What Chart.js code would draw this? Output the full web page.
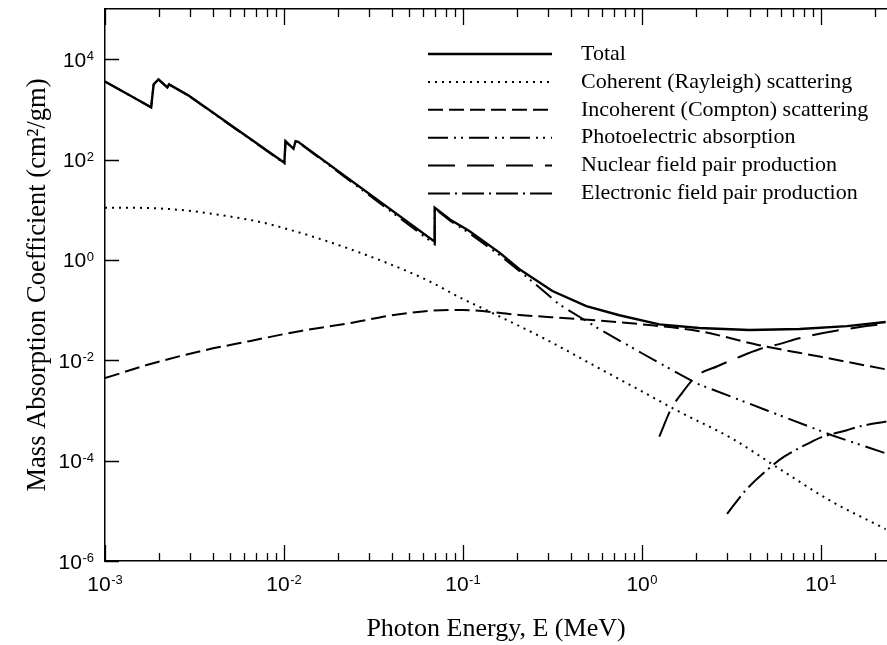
<!DOCTYPE html>
<html><head><meta charset="utf-8">
<script src="https://cdn.jsdelivr.net/npm/chart.js@4.4.1/dist/chart.umd.min.js"></script>
<style>html,body{margin:0;padding:0;background:#fff;overflow:hidden}canvas{display:block}</style>
</head><body>
<canvas id="c" width="887" height="645"></canvas>
<script>
// ---- data (photon energy in MeV, mass coefficient in cm^2/gm) ----
const seriesLabels = ['Total','Coherent (Rayleigh) scattering','Incoherent (Compton) scattering','Photoelectric absorption','Nuclear field pair production','Electronic field pair production'];

const totalE  = [0.001,0.00181,0.00187,0.00199,0.00223,0.00228,0.00292,0.01005,0.0102,0.0113,0.0116,0.0120,0.0695,0.0695,0.085,0.108,0.16,0.206,0.316,0.489,0.748,1.25,2.09,3.98,7.6,14,23];
const totalMu = [3600,1100,3150,3950,2750,3150,1900,86,232,164,232,225,2.3,11,6.3,3.8,1.4,0.66,0.24,0.12,0.079,0.052,0.044,0.040,0.042,0.048,0.058];

const cohE  = [0.001,0.00177,0.0064,0.01,0.0232,0.0608,0.1,0.135,0.291,0.577,1.0,1.61,3.19,5.85,11.6,21.7,23];
const cohMu = [11,10.8,6.3,4.3,1.66,0.42,0.166,0.1,0.026,0.0069,0.0024,9.5e-4,2.75e-4,6.9e-5,1.5e-5,4.8e-6,4.3e-6];

const incE  = [0.001,0.00177,0.00337,0.0064,0.0122,0.0232,0.044,0.0838,0.1,0.206,0.447,1.0,2.09,4.52,10,23];
const incMu = [0.0044,0.0083,0.015,0.024,0.038,0.055,0.083,0.1,0.1,0.08,0.066,0.052,0.038,0.02,0.0117,0.0066];

const photoE  = [0.001,0.00181,0.00187,0.00199,0.00223,0.00228,0.00292,0.01005,0.0102,0.0113,0.0116,0.0120,0.0695,0.0695,0.085,0.108,0.16,0.234,0.345,0.577,1.0,2.0,5.0,11.5,23];
const photoMu = [3590,1090,3140,3940,2740,3140,1890,84,229,162,229,223,2.05,10.6,6.0,3.45,1.25,0.42,0.13,0.042,0.0138,0.0035,0.001,3.2e-4,1.4e-4];

const nucE  = [1.25,1.46,1.62,2.01,2.64,3.37,4.52,5.85,7.56,17.9,23];
const nucMu = [3.0e-4,1.1e-3,1.9e-3,4.8e-3,7.6e-3,0.011,0.0166,0.021,0.0275,0.048,0.053];

const elE  = [2.99,3.81,5.33,6.23,8.93,10.0,13.8,16.4,23.2];
const elMu = [8.7e-6,2.6e-5,7.9e-5,1.2e-4,2.4e-4,2.9e-4,4.0e-4,4.8e-4,6.0e-4];

const xMin = 0.001, xMax = 23.4;
const yMin = 1e-6, yMax = 1e5;
const yTickValues = [1e-6,1e-4,1e-2,1,1e2,1e4];
const xTickValues = [];
for (let k = -3; k <= 1; k++) for (let m = 1; m <= 9; m++) {
  const v = Number((m * Math.pow(10, k)).toPrecision(6));
  if (v >= xMin && v <= xMax) xTickValues.push(v);
}

// ---- helpers ----
function isDecade(v){ const l = Math.log10(v); return Math.abs(l - Math.round(l)) < 1e-6; }
function expOf(v){ return String(Math.round(Math.log10(v))); }
function pts(xs, ys){ return xs.map((e,i) => ({x:e, y:ys[i]})); }

const BASE_FONT = '21px "Liberation Sans Narrow", "Liberation Sans", sans-serif';
const EXP_FONT  = '13px "Liberation Sans Narrow", "Liberation Sans", sans-serif';

// power-of-ten tick labels with a raised exponent
function drawPow(ctx, v, x, yCenter, align){
  ctx.font = BASE_FONT; const w10 = ctx.measureText('10').width;
  const e = expOf(v);
  ctx.font = EXP_FONT; const we = ctx.measureText(e).width;
  const total = w10 + we + 0.5;
  const left = align === 'right' ? x - total : x - total / 2;
  const base = yCenter + 7.5;
  ctx.font = BASE_FONT; ctx.fillText('10', left, base);
  ctx.font = EXP_FONT; ctx.fillText(e, left + w10 + 0.5, base - 6.5);
}

const axisDecor = {
  id: 'axisDecor',
  afterDatasetsDraw(chart){
    const {ctx, chartArea:a, scales} = chart;
    const x = scales.x, y = scales.y;
    ctx.save();
    ctx.strokeStyle = '#000';
    ctx.lineWidth = 1.3;
    ctx.beginPath();
    x.ticks.forEach(t => {
      const px = Math.round(x.getPixelForValue(t.value)) + 0.5;
      const L = isDecade(t.value) ? 16 : 8;
      ctx.moveTo(px, a.bottom); ctx.lineTo(px, a.bottom - L);
      ctx.moveTo(px, a.top); ctx.lineTo(px, a.top + L);
    });
    y.ticks.forEach(t => {
      const py = Math.round(y.getPixelForValue(t.value)) + 0.5;
      ctx.moveTo(a.left, py); ctx.lineTo(a.left + 14, py);
    });
    ctx.stroke();
    ctx.fillStyle = '#000';
    ctx.textBaseline = 'alphabetic';
    ctx.textAlign = 'left';
    x.ticks.forEach(t => {
      if (!isDecade(t.value)) return;
      drawPow(ctx, t.value, x.getPixelForValue(t.value), a.bottom + 22, 'center');
    });
    y.ticks.forEach(t => {
      drawPow(ctx, t.value, a.left - 11, y.getPixelForValue(t.value), 'right');
    });
    ctx.restore();
  }
};

const insideLegend = {
  id: 'insideLegend',
  afterDraw(chart){
    const ctx = chart.ctx;
    const x0 = 428, x1 = 552, tx = 581, top = 54, step = 27.9;
    chart.data.datasets.forEach((ds, i) => {
      const yy = top + i * step;
      ctx.save();
      ctx.strokeStyle = ds.borderColor;
      ctx.lineWidth = ds.borderWidth;
      ctx.setLineDash(ds.borderDash || []);
      ctx.beginPath(); ctx.moveTo(x0, yy); ctx.lineTo(x1, yy); ctx.stroke();
      ctx.restore();
      ctx.save();
      ctx.fillStyle = '#000';
      ctx.font = '22px "Liberation Serif"';
      ctx.textBaseline = 'middle';
      ctx.fillText(ds.label, tx, yy);
      ctx.restore();
    });
  }
};

function line(label, xs, ys, dash, width, mode){
  return {label, data: pts(xs, ys), borderColor:'#000', backgroundColor:'#000', borderWidth: width,
          borderDash: dash, fill:false, pointRadius:0, tension:0,
          cubicInterpolationMode: mode || 'default'};
}

new Chart(document.getElementById('c'), {
  type: 'line',
  data: {
    datasets: [
      line(seriesLabels[0], totalE, totalMu, [], 2.4),
      line(seriesLabels[1], cohE, cohMu, [2,5], 2, 'monotone'),
      line(seriesLabels[2], incE, incMu, [15,6], 2, 'monotone'),
      line(seriesLabels[3], photoE, photoMu, [20,6,2,5,2,6], 2),
      line(seriesLabels[4], nucE, nucMu, [27,12], 2, 'monotone'),
      line(seriesLabels[5], elE, elMu, [22,5,2,5], 2, 'monotone')
    ]
  },
  options: {
    responsive: false,
    animation: false,
    devicePixelRatio: 1,
    layout: {padding: 0},
    plugins: {legend: {display:false}, tooltip: {enabled:false}},
    scales: {
      x: {
        type: 'logarithmic', axis: 'x', position: 'bottom', min: xMin, max: xMax,
        afterBuildTicks(s){ s.ticks = xTickValues.map(v => ({value:v})); },
        afterFit(s){ s.height = 84; s.paddingLeft = 0; s.paddingRight = 0; },
        ticks: {display:false, autoSkip:false},
        grid: {display:false, drawTicks:false},
        border: {display:true, color:'#000', width:1.5},
        title: {display:true, text:'Photon Energy, E (MeV)', color:'#000',
                font:{family:'"Liberation Serif"', size:26}, padding:{top:0, bottom:0}}
      },
      xTop: {
        type: 'logarithmic', axis: 'x', position: 'top', min: xMin, max: xMax,
        afterFit(s){ s.height = 9; s.paddingLeft = 0; s.paddingRight = 0; },
        ticks: {display:false},
        grid: {display:false, drawTicks:false},
        border: {display:true, color:'#000', width:1.5}
      },
      y: {
        type: 'logarithmic', axis: 'y', position: 'left', min: yMin, max: yMax,
        afterBuildTicks(s){ s.ticks = yTickValues.map(v => ({value:v})); },
        afterFit(s){ s.width = 105; s.paddingTop = 0; s.paddingBottom = 0; },
        ticks: {display:false},
        grid: {display:false, drawTicks:false},
        border: {display:true, color:'#000', width:1.5},
        title: {display:true, text:'Mass Absorption Coefficient (cm²/gm)', color:'#000',
                font:{family:'"Liberation Serif"', size:26.5}, padding:{top:22, bottom:0}}
      }
    }
  },
  plugins: [axisDecor, insideLegend]
});
</script>
</body></html>
